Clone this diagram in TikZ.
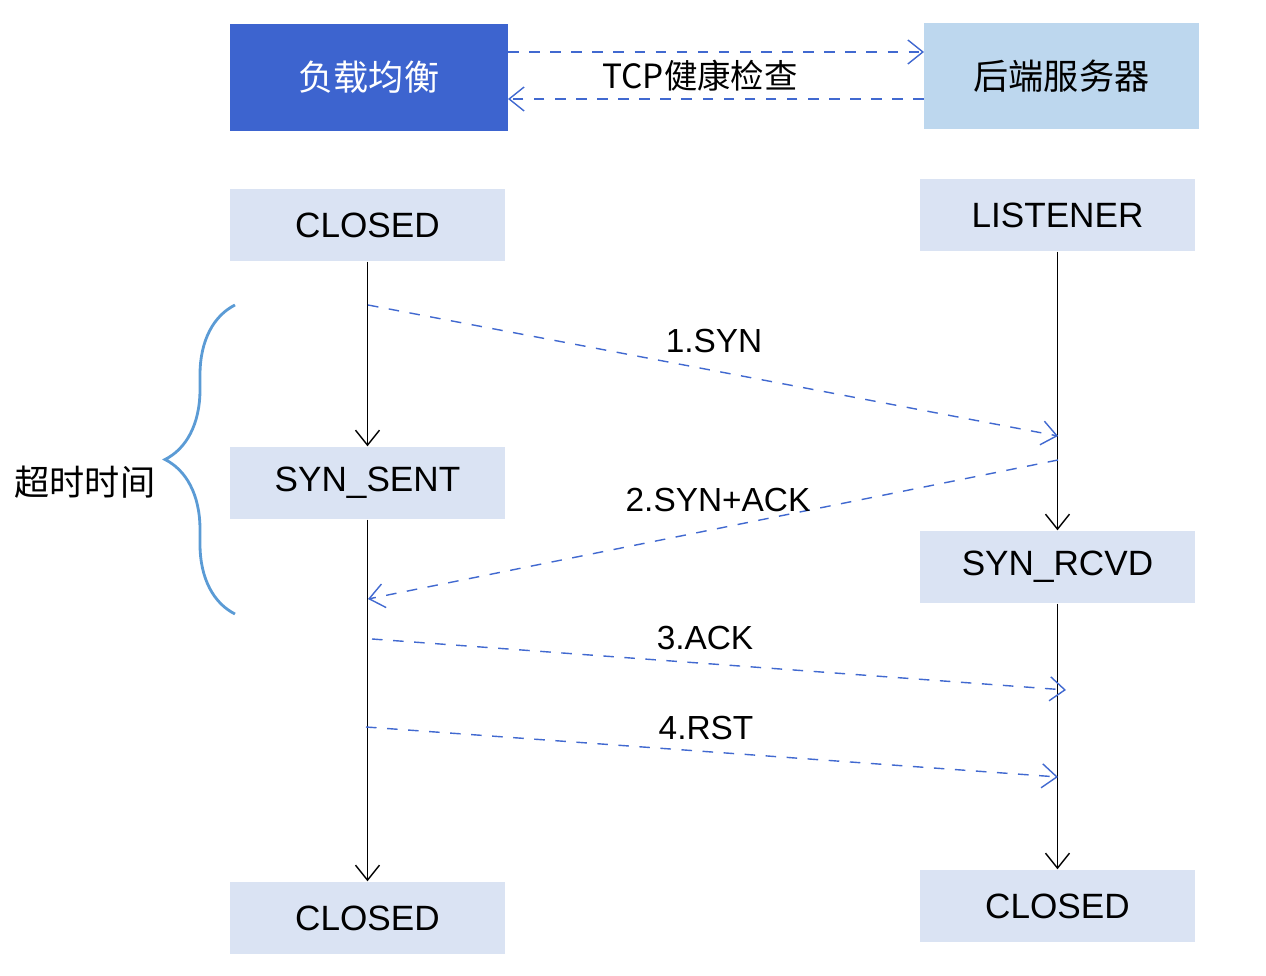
\documentclass[tikz,border=0pt]{standalone}
\usepackage{fontspec}
\setmainfont{Liberation Sans}
\newfontfamily\cjk{Noto Sans CJK SC}
\usetikzlibrary{arrows.meta,decorations.pathreplacing}
\definecolor{lbblue}{HTML}{3D64CF}
\definecolor{srvblue}{HTML}{BDD7EE}
\definecolor{stblue}{HTML}{DAE3F3}
\definecolor{dashblue}{HTML}{4169D0}
\definecolor{bracec}{HTML}{5B9BD5}
\tikzset{
  state/.style={fill=stblue,minimum width=2.75cm,minimum height=0.72cm,font=\fontsize{10}{12}\selectfont},
  msg/.style={dashed,dashblue,-{Straight Barb[length=1.5mm,width=2.4mm]}},
  life/.style={black,-{Straight Barb[length=1.5mm,width=2.4mm]}},
  lbl/.style={font=\fontsize{9.5}{11}\selectfont}
}
\begin{document}
\begin{tikzpicture}
  \useasboundingbox (0,0) rectangle (12.66,-9.76);
  % header boxes
  \node[fill=lbblue,text=white,minimum width=2.78cm,minimum height=1.07cm,font=\cjk\fontsize{10}{12}\selectfont] (lb) at (3.69,-0.775) {负载均衡};
  \node[fill=srvblue,minimum width=2.75cm,minimum height=1.06cm,font=\cjk\fontsize{10}{12}\selectfont] (srv) at (10.615,-0.76) {后端服务器};
  \coordinate (lbt) at (5.08,-0.52); \coordinate (srvt) at (9.24,-0.52);
  \coordinate (lbb) at (5.08,-0.99); \coordinate (srvb) at (9.24,-0.99);
  \draw[msg] (lbt) -- (srvt);
  \draw[msg] (srvb) -- (lbb);
  \node[font=\cjk\fontsize{9.5}{11}\selectfont] (hc) at (7.0,-0.76) {TCP健康检查};
  % states
  \node[state] (c1) at (3.675,-2.25) {CLOSED};
  \node[state] (ls) at (10.575,-2.15) {LISTENER};
  \node[state] (ss) at (3.675,-4.83) {SYN\_SENT};
  \node[state] (sr) at (10.575,-5.67) {SYN\_RCVD};
  \node[state] (c2) at (3.675,-9.18) {CLOSED};
  \node[state] (c3) at (10.575,-9.06) {CLOSED};
  % lifelines
  \draw[life] (c1) -- (ss);
  \draw[life] (ss) -- (c2);
  \draw[life] (ls) -- (sr);
  \draw[life] (sr) -- (c3);
  % messages
  \coordinate (m1a) at (3.68,-3.05); \coordinate (m1b) at (10.58,-4.36);
  \coordinate (m2a) at (10.58,-4.60); \coordinate (m2b) at (3.68,-5.99);
  \coordinate (m3a) at (3.72,-6.39); \coordinate (m3b) at (10.66,-6.90);
  \coordinate (m4a) at (3.66,-7.27); \coordinate (m4b) at (10.58,-7.77);
  \draw[msg] (m1a) -- (m1b);
  \draw[msg] (m2a) -- (m2b);
  \draw[msg] (m3a) -- (m3b);
  \draw[msg] (m4a) -- (m4b);
  \node[lbl] (l1) at (7.14,-3.41) {1.SYN};
  \node[lbl] (l2) at (7.18,-5.00) {2.SYN+ACK};
  \node[lbl] (l3) at (7.05,-6.38) {3.ACK};
  \node[lbl] (l4) at (7.06,-7.28) {4.RST};
  % timeout brace
  \draw[bracec,thick,decorate,decoration={brace,amplitude=0.7cm}] (2.35,-6.14) -- (2.35,-3.05);
  \node[font=\cjk\fontsize{10}{12}\selectfont] (to) at (0.85,-4.82) {超时时间};
\end{tikzpicture}
\end{document}
